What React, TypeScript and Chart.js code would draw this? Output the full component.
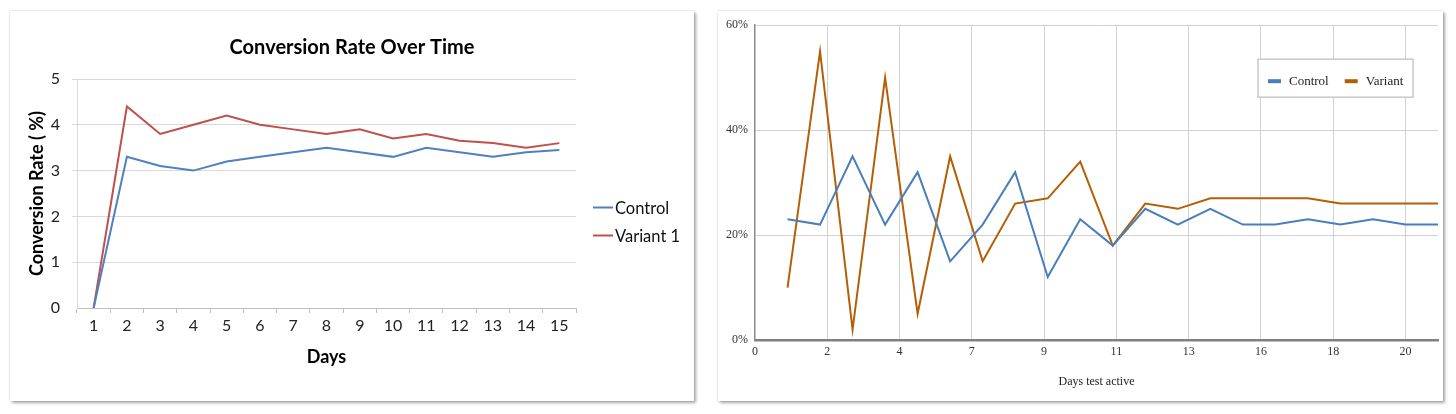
import React, { useEffect, useRef } from 'react';
import { Chart, registerables } from 'chart.js';

Chart.register(...registerables);

// ---------- Left chart data ----------
const leftTitle = 'Conversion Rate Over Time';
const leftDays = ['1', '2', '3', '4', '5', '6', '7', '8', '9', '10', '11', '12', '13', '14', '15'];
const leftControl = [0, 3.3, 3.1, 3.0, 3.2, 3.3, 3.4, 3.5, 3.4, 3.3, 3.5, 3.4, 3.3, 3.4, 3.45];
const leftVariant = [0, 4.4, 3.8, 4.0, 4.2, 4.0, 3.9, 3.8, 3.9, 3.7, 3.8, 3.65, 3.6, 3.5, 3.6];
const leftSeriesNames = ['Control', 'Variant 1'];

// ---------- Right chart data ----------
const rightDays = [1, 2, 3, 4, 5, 6, 7, 8, 9, 10, 11, 12, 13, 14, 15, 16, 17, 18, 19, 20, 21];
const rightControl = [23, 22, 35, 22, 32, 15, 22, 32, 12, 23, 18, 25, 22, 25, 22, 22, 23, 22, 23, 22, 22];
const rightVariant = [10, 55, 2, 50, 5, 35, 15, 26, 27, 34, 18, 26, 25, 27, 27, 27, 27, 26, 26, 26, 26];
const rightXTickLabels = ['0', '2', '4', '7', '9', '11', '13', '16', '18', '20'];
const rightSeriesNames = ['Control', 'Variant'];

const LEFT_W = 684;
const LEFT_H = 390;
const RIGHT_W = 725;
const RIGHT_H = 390;

const leftLegendPlugin = {
  id: 'leftLegend',
  afterDraw(chart: any) {
    const { ctx, chartArea } = chart;
    ctx.save();
    ctx.font = '16.5px Lato';
    ctx.textBaseline = 'middle';
    ctx.textAlign = 'left';
    chart.data.datasets.forEach((ds: any, i: number) => {
      const x = chartArea.right + 17;
      const y = (chartArea.top + chartArea.bottom) / 2 + 14 + i * 28;
      ctx.strokeStyle = ds.borderColor;
      ctx.lineWidth = 2;
      ctx.beginPath();
      ctx.moveTo(x, y);
      ctx.lineTo(x + 20, y);
      ctx.stroke();
      ctx.fillStyle = '#111';
      ctx.fillText(ds.label, x + 22, y + 1);
    });
    ctx.restore();
  },
};

const rightLegendPlugin = {
  id: 'rightLegend',
  afterDraw(chart: any) {
    const { ctx, chartArea } = chart;
    const bx = chartArea.right - 180;
    const by = chartArea.top + 34;
    const bw = 155;
    const bh = 38;
    ctx.save();
    ctx.fillStyle = '#ffffff';
    ctx.fillRect(bx, by, bw, bh);
    ctx.strokeStyle = '#c9c9c9';
    ctx.lineWidth = 1.5;
    ctx.strokeRect(bx, by, bw, bh);
    ctx.font = '13px "Liberation Serif"';
    ctx.textBaseline = 'middle';
    ctx.textAlign = 'left';
    const cy = by + bh / 2 + 3;
    let x = bx + 10;
    chart.data.datasets.forEach((ds: any) => {
      ctx.fillStyle = ds.borderColor;
      ctx.fillRect(x, cy - 2, 13, 4);
      x += 21;
      ctx.fillStyle = '#222';
      ctx.fillText(ds.label, x, cy);
      x += ctx.measureText(ds.label).width + 16;
    });
    ctx.restore();
  },
};

function LeftChart() {
  const ref = useRef<HTMLCanvasElement>(null);
  useEffect(() => {
    const chart = new Chart(ref.current as HTMLCanvasElement, {
      type: 'line',
      data: {
        labels: leftDays,
        datasets: [
          {
            label: leftSeriesNames[0],
            data: leftControl,
            borderColor: '#4f81bd',
            backgroundColor: '#4f81bd',
            borderWidth: 2,
            pointRadius: 0,
            tension: 0,
          },
          {
            label: leftSeriesNames[1],
            data: leftVariant,
            borderColor: '#c0504d',
            backgroundColor: '#c0504d',
            borderWidth: 2,
            pointRadius: 0,
            tension: 0,
          },
        ],
      },
      options: {
        responsive: false,
        animation: false,
        layout: { padding: 0 },
        plugins: {
          legend: { display: false },
          tooltip: { enabled: false },
          title: {
            display: true,
            text: leftTitle,
            color: '#000',
            font: { family: 'Lato', size: 20, weight: 'bold' },
            padding: { top: 25, bottom: 19 },
          },
        },
        scales: {
          x: {
            type: 'category',
            offset: true,
            grid: {
              display: true,
              drawOnChartArea: false,
              drawTicks: true,
              tickLength: 5,
              offset: true,
              color: '#bfbfbf',
            },
            border: { display: true, color: '#bfbfbf', width: 1 },
            ticks: {
              color: '#222',
              font: { family: 'Lato', size: 16 },
              padding: 3.4,
              autoSkip: false,
              maxRotation: 0,
            },
            title: {
              display: true,
              text: 'Days',
              color: '#000',
              font: { family: 'Lato', size: 18, weight: 'bold' },
              padding: { top: 0, bottom: 33.2 },
            },
            afterFit: (s: any) => {
              s.height = 93;
            },
          },
          y: {
            min: 0,
            max: 5,
            ticks: {
              stepSize: 1,
              color: '#222',
              font: { family: 'Lato', size: 16 },
              padding: 12,
            },
            grid: {
              color: (c: any) => (c.index === 0 ? 'rgba(0,0,0,0)' : '#d9d9d9'),
              drawTicks: true,
              tickLength: 5,
            },
            border: { display: true, color: '#d9d9d9', width: 1 },
            title: {
              display: true,
              text: 'Conversion Rate ( %)',
              color: '#000',
              font: { family: 'Lato', size: 18, weight: 'bold' },
              padding: { top: 16.2, bottom: 0 },
            },
            afterFit: (s: any) => {
              s.width = 67;
            },
          },
          legendSpace: {
            position: 'right',
            display: true,
            grid: { display: false },
            border: { display: false },
            ticks: { display: false },
            afterFit: (s: any) => {
              s.width = 118;
            },
          },
        },
      } as any,
      plugins: [leftLegendPlugin],
    });
    return () => chart.destroy();
  }, []);
  return (
    <canvas
      ref={ref}
      width={LEFT_W}
      height={LEFT_H}
      style={{ display: 'block', width: LEFT_W, height: LEFT_H }}
    />
  );
}

function RightChart() {
  const ref = useRef<HTMLCanvasElement>(null);
  useEffect(() => {
    const controlPts = rightDays.map((d, i) => ({ x: d, y: rightControl[i] }));
    const variantPts = rightDays.map((d, i) => ({ x: d, y: rightVariant[i] }));
    const lastTick = Number(rightXTickLabels[rightXTickLabels.length - 1]);
    const chart = new Chart(ref.current as HTMLCanvasElement, {
      type: 'line',
      data: {
        datasets: [
          {
            label: rightSeriesNames[0],
            data: controlPts,
            borderColor: '#4a7ebb',
            backgroundColor: '#4a7ebb',
            borderWidth: 2,
            pointRadius: 0,
            tension: 0,
          },
          {
            label: rightSeriesNames[1],
            data: variantPts,
            borderColor: '#b45f06',
            backgroundColor: '#b45f06',
            borderWidth: 2,
            pointRadius: 0,
            tension: 0,
          },
        ],
      },
      options: {
        responsive: false,
        animation: false,
        layout: { padding: { top: 12, right: 5, left: 0, bottom: 0 } },
        plugins: {
          legend: { display: false },
          tooltip: { enabled: false },
          title: { display: false },
        },
        scales: {
          x: {
            type: 'linear',
            min: 0,
            max: 21,
            afterBuildTicks: (s: any) => {
              s.ticks = rightXTickLabels.map((_, i) => ({
                value: (i * lastTick) / (rightXTickLabels.length - 1),
              }));
            },
            ticks: {
              autoSkip: false,
              maxRotation: 0,
              color: '#333',
              font: { family: 'Liberation Serif', size: 12 },
              padding: 5,
              callback: (_v: any, i: number) => rightXTickLabels[i],
            },
            grid: {
              color: (c: any) => (c.index === 0 ? 'rgba(0,0,0,0)' : '#d2d2d2'),
              drawTicks: false,
            },
            border: { display: true, color: '#808080', width: 2.5 },
            title: {
              display: true,
              text: 'Days test active',
              color: '#222',
              font: { family: 'Liberation Serif', size: 12 },
              padding: { top: 0, bottom: 11.8 },
            },
            afterFit: (s: any) => {
              s.height = 61;
            },
          },
          y: {
            min: 0,
            max: 60,
            ticks: {
              stepSize: 20,
              color: '#333',
              font: { family: 'Liberation Serif', size: 12 },
              padding: 7,
              callback: (v: any) => v + '%',
            },
            grid: {
              color: (c: any) => (c.index === 0 ? 'rgba(0,0,0,0)' : '#d2d2d2'),
              drawTicks: false,
            },
            border: { display: true, color: '#8a8a8a', width: 1.5 },
            afterFit: (s: any) => {
              s.width = 37;
            },
          },
        },
      } as any,
      plugins: [rightLegendPlugin],
    });
    return () => chart.destroy();
  }, []);
  return (
    <canvas
      ref={ref}
      width={RIGHT_W}
      height={RIGHT_H}
      style={{ display: 'block', width: RIGHT_W, height: RIGHT_H }}
    />
  );
}

const cardShadow = '0 0 2px rgba(0,0,0,0.22), 2px 2px 3px rgba(0,0,0,0.32)';

export default function App() {
  return (
    <div
      style={{
        position: 'absolute',
        left: 0,
        top: 0,
        width: 1456,
        height: 414,
        background: '#ffffff',
        overflow: 'hidden',
      }}
    >
      <div
        style={{
          position: 'absolute',
          left: 10,
          top: 11,
          width: LEFT_W,
          height: LEFT_H,
          background: '#fff',
          boxShadow: cardShadow,
        }}
      >
        <LeftChart />
      </div>
      <div
        style={{
          position: 'absolute',
          left: 718,
          top: 11,
          width: RIGHT_W,
          height: RIGHT_H,
          background: '#fff',
          boxShadow: cardShadow,
        }}
      >
        <RightChart />
      </div>
    </div>
  );
}
